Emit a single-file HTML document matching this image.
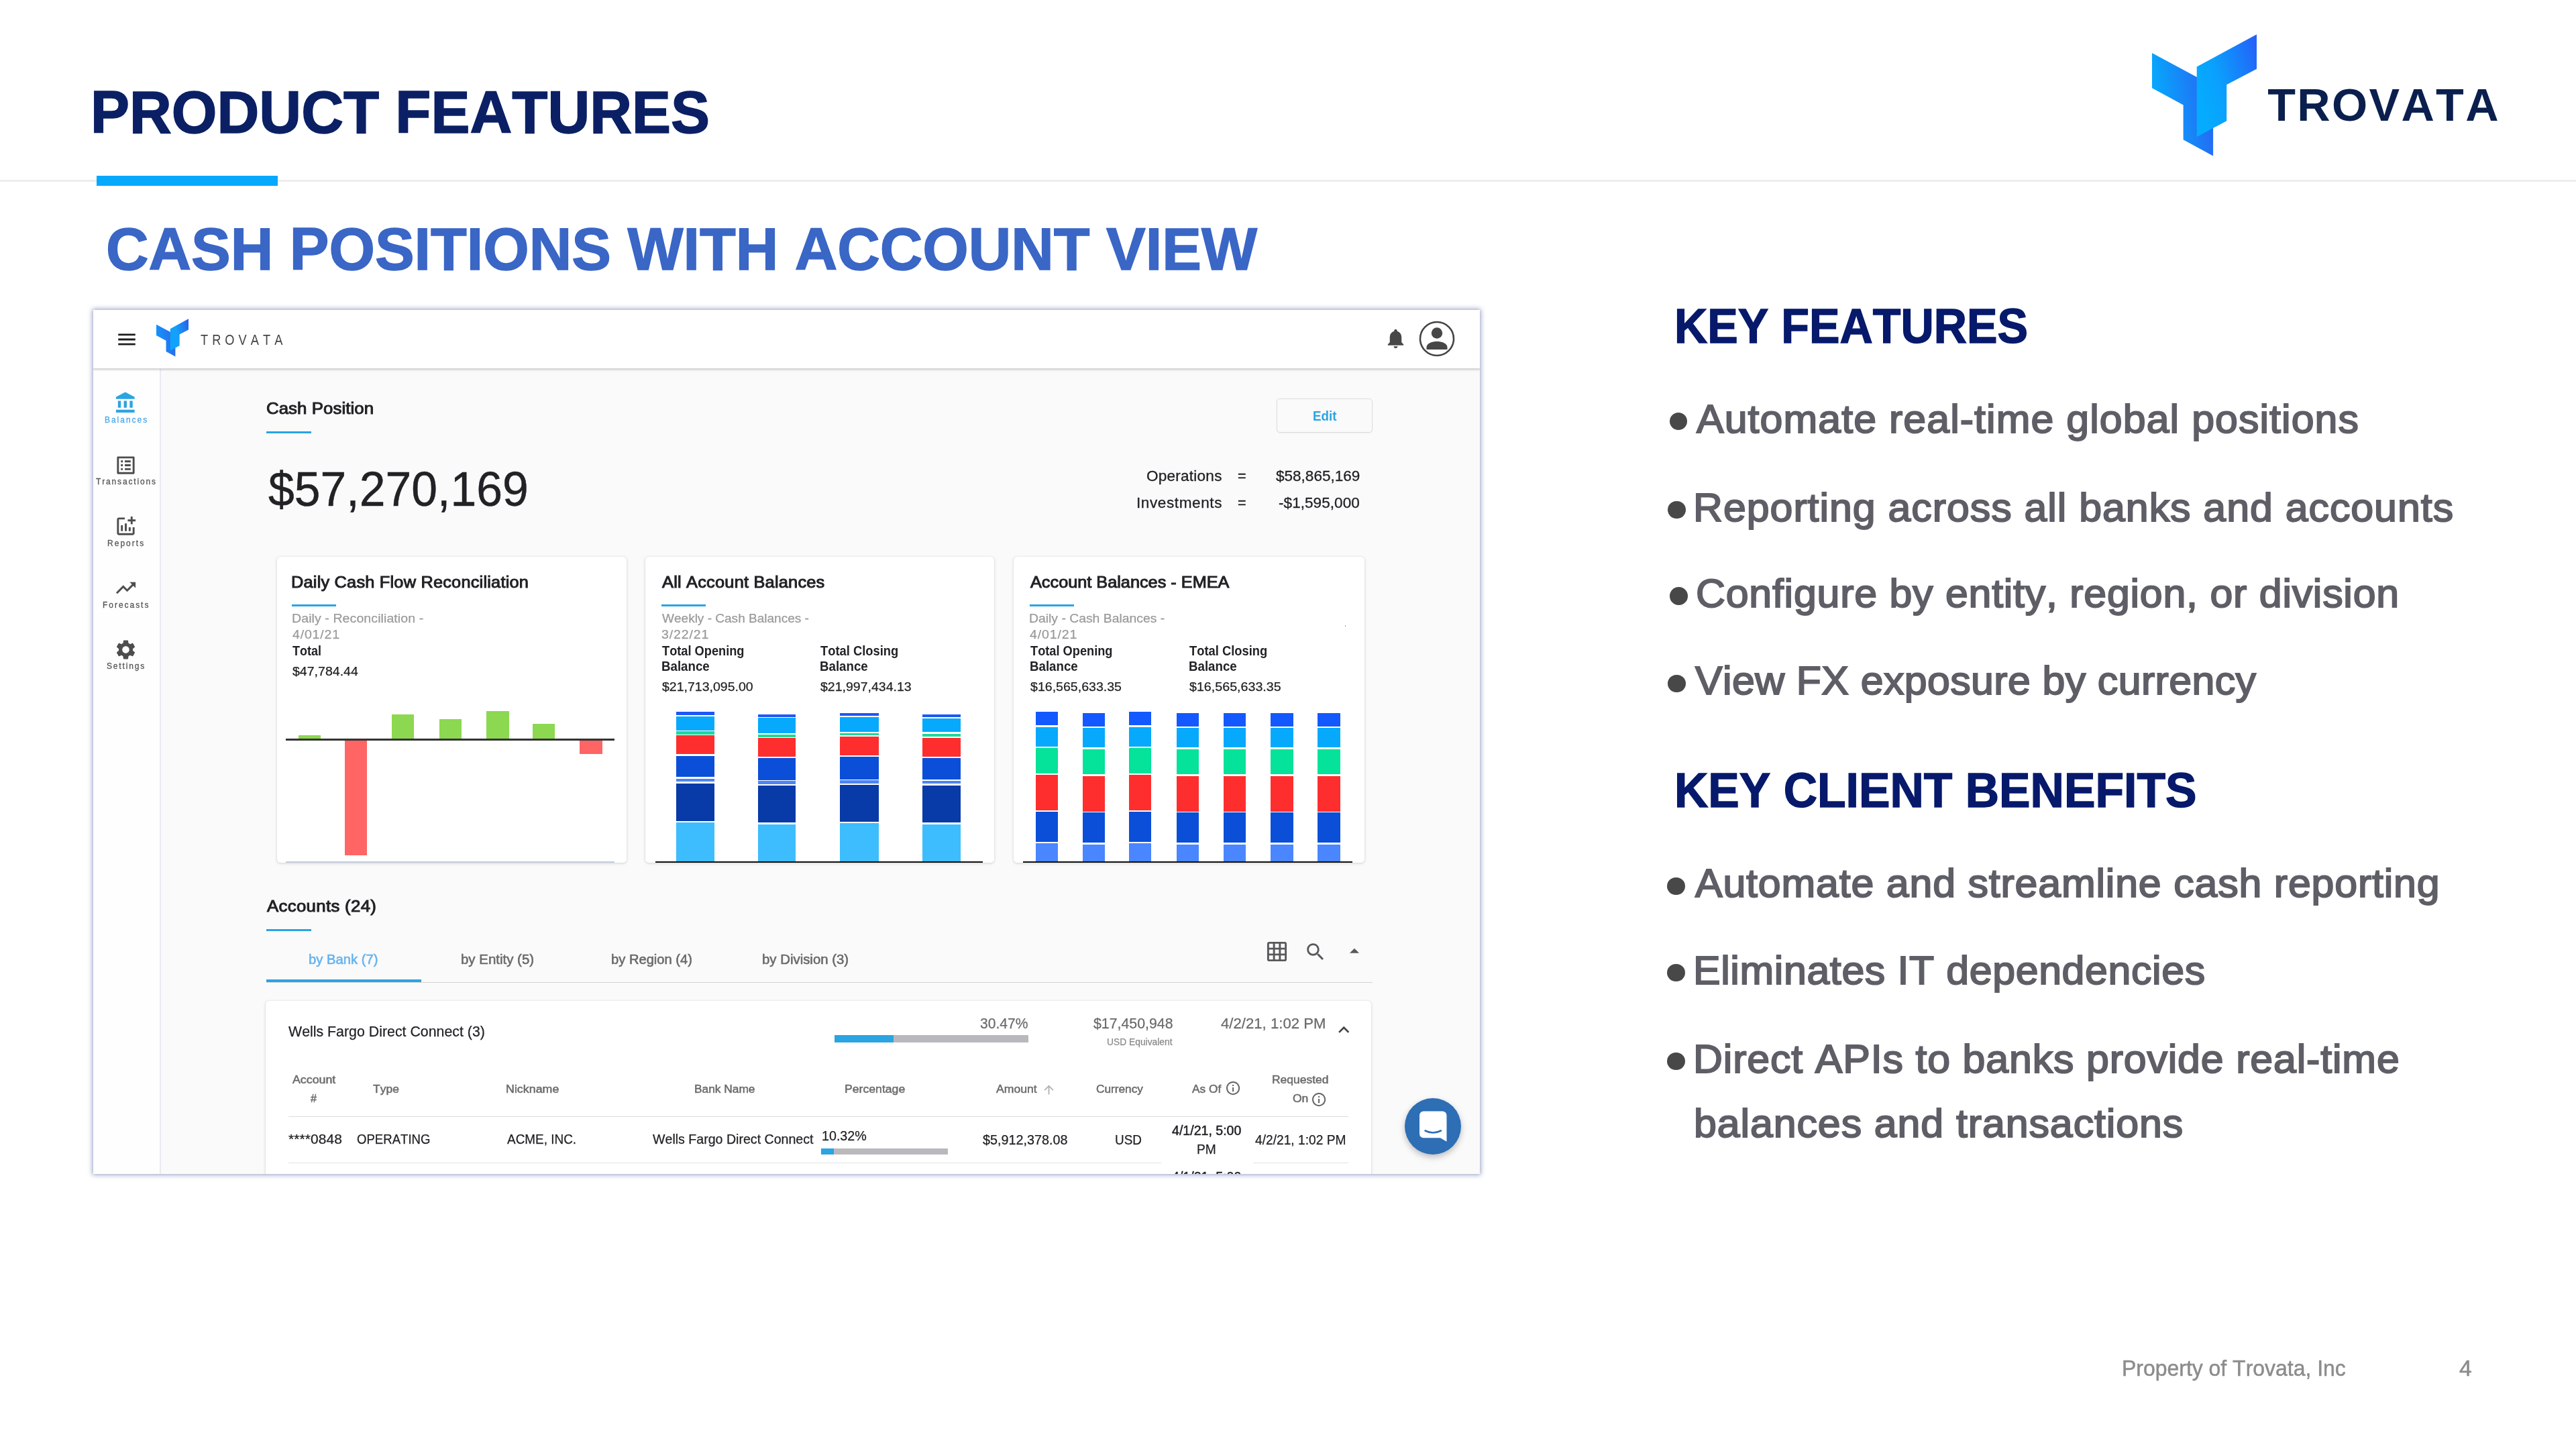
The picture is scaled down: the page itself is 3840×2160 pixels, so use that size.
<!DOCTYPE html>
<html><head><meta charset="utf-8"><title>Product Features</title>
<style>
html,body{margin:0;padding:0;background:#fff;}
body{width:3840px;height:2160px;overflow:hidden;position:relative;font-family:"Liberation Sans",sans-serif;font-kerning:none;}
.t{position:absolute;white-space:pre;line-height:1;transform-origin:left center;font-kerning:none;}
.r{position:absolute;display:block;}
#panel{position:absolute;left:139px;top:462px;width:2067px;height:1288px;overflow:hidden;background:#fafafa;box-shadow:0 0 7px 1px rgba(100,112,170,0.72);}
#pin{position:absolute;left:-139px;top:-462px;width:3840px;height:2160px;}
.card{position:absolute;background:#fff;border-radius:5px;box-shadow:0 1px 4px rgba(0,0,0,0.16),0 0 1px rgba(0,0,0,0.12);}
</style></head><body>
<div class="r" style="left:0.00px;top:268.00px;width:3840.00px;height:3.00px;background:#ededed;"></div>
<div class="r" style="left:143.90px;top:262.30px;width:269.80px;height:14.30px;background:#06a9fc;"></div>
<span class="t" style="left:135.18px;top:123.88px;font-size:88.62px;color:#0b2064;font-weight:bold;transform:scaleX(0.9818);-webkit-text-stroke:1.5px #0b2064;">PRODUCT FEATURES</span>
<span class="t" style="left:158.19px;top:327.30px;font-size:89.78px;color:#3a66c6;font-weight:bold;transform:scaleX(0.9803);-webkit-text-stroke:1.5px #3a66c6;">CASH POSITIONS WITH ACCOUNT VIEW</span>
<svg class="r" style="left:3208.00px;top:51.10px" width="156.30" height="181.60" viewBox="0 0 156.30 181.60"><defs><linearGradient id="La" x1="0" y1="0.25" x2="1" y2="0"><stop offset="0" stop-color="#06a8fd"/><stop offset="1" stop-color="#2a5ff2"/></linearGradient><linearGradient id="Lb" x1="0" y1="0.6" x2="1" y2="0.1"><stop offset="0" stop-color="#05acfe"/><stop offset="0.35" stop-color="#0aa0fd"/><stop offset="1" stop-color="#2462f8"/></linearGradient></defs><polygon fill="url(#La)" points="0.00,27.90 91.10,76.90 91.10,181.60 46.60,157.20 46.60,105.50 0.00,80.20"/><polygon fill="url(#Lb)" points="66.70,48.60 156.30,0.00 156.30,51.70 111.20,75.30 111.20,129.30 66.70,152.90"/></svg>
<span class="t" style="left:3380.23px;top:121.62px;font-size:68.37px;color:#0b1f4e;font-weight:bold;letter-spacing:2.323px;">TROVATA</span>
<div id="panel"><div id="pin">
<div class="r" style="left:139.00px;top:550.00px;width:99.00px;height:1200.00px;background:#fefefe;border-right:2px solid #eaeaf0;"></div>
<div class="r" style="left:139.00px;top:462.00px;width:2067.00px;height:87.00px;background:#ffffff;box-shadow:0 1px 3px rgba(0,0,0,0.22);border-bottom:1px solid #d6d6d6;"></div>
<svg class="r" style="left:172.40px;top:489.10px" width="34" height="34" viewBox="0 0 24 24"><path fill="#1c1c1c" d="M3 18h18v-2H3v2zm0-5h18v-2H3v2zm0-7v2h18V6H3z"/></svg>
<svg class="r" style="left:232.50px;top:475.00px" width="48.69" height="56.57" viewBox="0 0 48.69 56.57"><defs><linearGradient id="Sa" x1="0" y1="0.25" x2="1" y2="0"><stop offset="0" stop-color="#1494fb"/><stop offset="1" stop-color="#2e64e6"/></linearGradient><linearGradient id="Sb" x1="0" y1="0.6" x2="1" y2="0.1"><stop offset="0" stop-color="#0fa3fc"/><stop offset="0.35" stop-color="#14a0fb"/><stop offset="1" stop-color="#2a5fe6"/></linearGradient></defs><polygon fill="url(#Sa)" points="0.00,8.69 28.38,23.95 28.38,56.57 14.52,48.97 14.52,32.86 0.00,24.98"/><polygon fill="url(#Sb)" points="20.78,15.14 48.69,0.00 48.69,16.10 34.64,23.46 34.64,40.28 20.78,47.63"/></svg>
<span class="t" style="left:298.99px;top:495.95px;font-size:21.2px;color:#454545;letter-spacing:7.024px;transform:scaleX(0.86);-webkit-text-stroke:0.01px #454545;">TROVATA</span>
<svg class="r" style="left:2063.20px;top:487.40px" width="35" height="35" viewBox="0 0 24 24"><path fill="#474747" d="M12 22c1.1 0 2-.9 2-2h-4c0 1.1.89 2 2 2zm6-6v-5c0-3.07-1.64-5.64-4.5-6.32V4c0-.83-.67-1.5-1.5-1.5s-1.500.67-1.500 1.500v.68C7.63 5.36 6 7.920 6 11v5l-2 2v1h16v-1l-2-2z"/></svg>
<svg class="r" style="left:2113.6px;top:476.6px" width="56" height="56" viewBox="0 0 56 56"><circle cx="28" cy="28" r="25" fill="none" stroke="#444" stroke-width="2.6"/><circle cx="28" cy="19.5" r="8.2" fill="#474747"/><path fill="#474747" d="M12.5 44 v-3.5 c0-6 9-8.500 15.500-8.500 s15.500 2.500 15.500 8.500 v3.500 z"/></svg>
<svg class="r" style="left:170.30px;top:583.30px" width="35" height="35" viewBox="0 0 24 24"><path fill="#2ba4e2" d="M4 10v7h3v-7H4zm6 0v7h3v-7h-3zM2 22h19v-3H2v3zm14-12v7h3v-7h-3zm-4.5-9L2 6v2h19V6l-9.5-5z"/></svg>
<svg class="r" style="left:170.30px;top:675.50px" width="35" height="35" viewBox="0 0 24 24"><path fill="#4d4d4d" d="M19 5v14H5V5h14m1.1-2H3.9c-.5 0-.9.4-.9.9v16.2c0 .4.4.9.9.9h16.2c.4 0 .9-.5.9-.9V3.9c0-.5-.5-.9-.9-.9zM11 7h6v2h-6V7zm0 4h6v2h-6v-2zm0 4h6v2h-6zM7 7h2v2H7zm0 4h2v2H7zm0 4h2v2H7z"/></svg>
<svg class="r" style="left:170.30px;top:766.70px" width="35" height="35" viewBox="0 0 24 24"><path fill="#4d4d4d" d="M22 5v2h-3v3h-2V7h-3V5h3V2h2v3h3zm-3 14H5V5h6V3H5c-1.1 0-2 .9-2 2v14c0 1.1.9 2 2 2h14c1.1 0 2-.9 2-2v-6h-2v6zm-4-6v4h2v-4h-2zm-4 4h2V9h-2v8zm-2 0v-6H7v6h2z"/></svg>
<svg class="r" style="left:170.30px;top:858.90px" width="35" height="35" viewBox="0 0 24 24"><path fill="#4d4d4d" d="M16 6l2.29 2.29-4.88 4.88-4-4L2 16.59 3.41 18l6-6 4 4 6.3-6.29L22 12V6z"/></svg>
<svg class="r" style="left:170.30px;top:951.00px" width="35" height="35" viewBox="0 0 24 24"><path fill="#4d4d4d" d="M19.14 12.94c.04-.3.06-.61.06-.94 0-.32-.02-.64-.07-.94l2.03-1.58c.18-.14.23-.41.12-.61l-1.92-3.32c-.12-.22-.37-.29-.59-.22l-2.39.96c-.5-.38-1.03-.7-1.62-.94l-.36-2.54c-.04-.24-.24-.41-.48-.41h-3.84c-.24 0-.43.17-.47.41l-.36 2.54c-.59.24-1.13.57-1.62.94l-2.39-.96c-.22-.08-.47 0-.59.22L2.74 8.87c-.12.21-.08.47.12.61l2.03 1.58c-.05.3-.09.63-.09.94s.02.64.07.94l-2.03 1.58c-.18.14-.23.41-.12.61l1.92 3.32c.12.22.37.29.59.22l2.39-.96c.5.38 1.03.7 1.62.94l.36 2.54c.05.24.24.41.48.41h3.84c.24 0 .44-.17.47-.41l.36-2.54c.59-.24 1.13-.56 1.62-.94l2.39.96c.22.08.47 0 .59-.22l1.92-3.32c.12-.22.07-.47-.12-.61l-2.01-1.58zM12 15.6c-1.98 0-3.6-1.62-3.6-3.6s1.62-3.6 3.6-3.6 3.6 1.62 3.6 3.6-1.62 3.6-3.6 3.6z"/></svg>
<span class="t" style="left:155.52px;top:618.80px;font-size:13.0px;color:#4aa9ea;letter-spacing:2.160px;transform:scaleX(0.92);-webkit-text-stroke:0.3px #4aa9ea;">Balances</span>
<span class="t" style="left:143.13px;top:710.70px;font-size:13.0px;color:#555;letter-spacing:2.039px;transform:scaleX(0.92);-webkit-text-stroke:0.3px #555;">Transactions</span>
<span class="t" style="left:160.02px;top:802.80px;font-size:13.0px;color:#555;letter-spacing:2.235px;transform:scaleX(0.92);-webkit-text-stroke:0.3px #555;">Reports</span>
<span class="t" style="left:153.02px;top:895.20px;font-size:13.0px;color:#555;letter-spacing:2.161px;transform:scaleX(0.92);-webkit-text-stroke:0.3px #555;">Forecasts</span>
<span class="t" style="left:159.46px;top:986.40px;font-size:13.0px;color:#555;letter-spacing:2.012px;transform:scaleX(0.92);-webkit-text-stroke:0.3px #555;">Settings</span>
<span class="t" style="left:396.69px;top:597.11px;font-size:24.8px;color:#212225;letter-spacing:0.076px;transform:scaleX(1.04);-webkit-text-stroke:1.0px #212225;">Cash Position</span>
<div class="r" style="left:397.00px;top:642.50px;width:67.00px;height:3.70px;background:#2ba4e2;"></div>
<span class="t" style="left:399.75px;top:692.54px;font-size:72.6px;color:#212225;transform:scaleX(0.9604);-webkit-text-stroke:0.5px #212225;">$57,270,169</span>
<div class="r" style="left:1903px;top:593.9px;width:141px;height:49.5px;border:1.5px solid #dcdcdc;border-radius:5px;background:#fafafa;box-shadow:0 1px 2px rgba(0,0,0,0.05)"></div>
<span class="t" style="left:1957.24px;top:609.62px;font-size:20.3px;color:#2ba4e2;font-weight:bold;transform:scaleX(0.9256);">Edit</span>
<span class="t" style="left:1708.93px;top:699.03px;font-size:21.7px;color:#212225;letter-spacing:0.223px;transform:scaleX(1.04);-webkit-text-stroke:0.3px #212225;">Operations</span>
<span class="t" style="left:1845.44px;top:699.03px;font-size:21.7px;color:#212225;transform:scaleX(0.9959);-webkit-text-stroke:0.3px #212225;">=</span>
<span class="t" style="left:1901.66px;top:699.03px;font-size:21.7px;color:#212225;transform:scaleX(1.0392);-webkit-text-stroke:0.3px #212225;">$58,865,169</span>
<span class="t" style="left:1693.92px;top:739.43px;font-size:21.7px;color:#212225;letter-spacing:0.561px;transform:scaleX(1.04);-webkit-text-stroke:0.3px #212225;">Investments</span>
<span class="t" style="left:1845.44px;top:739.43px;font-size:21.7px;color:#212225;transform:scaleX(0.9959);-webkit-text-stroke:0.3px #212225;">=</span>
<span class="t" style="left:1906.00px;top:739.43px;font-size:21.7px;color:#212225;letter-spacing:0.040px;transform:scaleX(1.04);-webkit-text-stroke:0.3px #212225;">-$1,595,000</span>
<div class="card" style="left:412.9px;top:830.3px;width:520.7px;height:455.7px"></div>
<div class="card" style="left:961.8px;top:830.3px;width:520.2px;height:455.7px"></div>
<div class="card" style="left:1511.2px;top:830.3px;width:522.4px;height:455.7px"></div>
<span class="t" style="left:434.32px;top:855.75px;font-size:24.4px;color:#212225;letter-spacing:0.188px;transform:scaleX(1.04);-webkit-text-stroke:1.0px #212225;">Daily Cash Flow Reconciliation</span>
<div class="r" style="left:435.30px;top:900.60px;width:65.80px;height:3.80px;background:#2ba4e2;"></div>
<span class="t" style="left:434.50px;top:913.39px;font-size:18.8px;color:#9a9a9a;letter-spacing:0.078px;transform:scaleX(1.04);-webkit-text-stroke:0.25px #9a9a9a;">Daily - Reconciliation -</span>
<span class="t" style="left:435.65px;top:936.79px;font-size:18.8px;color:#9a9a9a;letter-spacing:0.780px;transform:scaleX(1.04);-webkit-text-stroke:0.25px #9a9a9a;">4/01/21</span>
<span class="t" style="left:435.90px;top:960.66px;font-size:19.3px;color:#212225;font-weight:bold;transform:scaleX(0.9322);">Total</span>
<span class="t" style="left:435.89px;top:990.73px;font-size:19.1px;color:#212225;transform:scaleX(1.024);-webkit-text-stroke:0.25px #212225;">$47,784.44</span>
<span class="t" style="left:987.05px;top:855.75px;font-size:24.4px;color:#212225;letter-spacing:0.202px;transform:scaleX(1.04);-webkit-text-stroke:1.0px #212225;">All Account Balances</span>
<div class="r" style="left:986.00px;top:900.60px;width:65.80px;height:3.80px;background:#2ba4e2;"></div>
<span class="t" style="left:986.72px;top:913.39px;font-size:18.8px;color:#9a9a9a;transform:scaleX(1.0132);-webkit-text-stroke:0.25px #9a9a9a;">Weekly - Cash Balances -</span>
<span class="t" style="left:986.06px;top:936.79px;font-size:18.8px;color:#9a9a9a;letter-spacing:0.828px;transform:scaleX(1.04);-webkit-text-stroke:0.25px #9a9a9a;">3/22/21</span>
<span class="t" style="left:986.60px;top:960.66px;font-size:19.3px;color:#212225;font-weight:bold;transform:scaleX(0.9452);">Total Opening</span>
<span class="t" style="left:985.55px;top:983.76px;font-size:19.3px;color:#212225;font-weight:bold;transform:scaleX(0.9698);">Balance</span>
<span class="t" style="left:986.59px;top:1014.03px;font-size:19.1px;color:#212225;transform:scaleX(1.0219);-webkit-text-stroke:0.25px #212225;">$21,713,095.00</span>
<span class="t" style="left:1223.29px;top:960.66px;font-size:19.3px;color:#212225;font-weight:bold;transform:scaleX(0.9518);">Total Closing</span>
<span class="t" style="left:1222.25px;top:983.76px;font-size:19.3px;color:#212225;font-weight:bold;transform:scaleX(0.9698);">Balance</span>
<span class="t" style="left:1223.29px;top:1014.03px;font-size:19.1px;color:#212225;transform:scaleX(1.0226);-webkit-text-stroke:0.25px #212225;">$21,997,434.13</span>
<span class="t" style="left:1536.05px;top:855.75px;font-size:24.4px;color:#212225;transform:scaleX(1.0362);-webkit-text-stroke:1.0px #212225;">Account Balances - EMEA</span>
<div class="r" style="left:1535.00px;top:900.60px;width:65.80px;height:3.80px;background:#2ba4e2;"></div>
<span class="t" style="left:1534.21px;top:913.39px;font-size:18.8px;color:#9a9a9a;transform:scaleX(1.0301);-webkit-text-stroke:0.25px #9a9a9a;">Daily - Cash Balances -</span>
<span class="t" style="left:1535.35px;top:936.79px;font-size:18.8px;color:#9a9a9a;letter-spacing:0.828px;transform:scaleX(1.04);-webkit-text-stroke:0.25px #9a9a9a;">4/01/21</span>
<span class="t" style="left:1535.60px;top:960.66px;font-size:19.3px;color:#212225;font-weight:bold;transform:scaleX(0.9452);">Total Opening</span>
<span class="t" style="left:1534.55px;top:983.76px;font-size:19.3px;color:#212225;font-weight:bold;transform:scaleX(0.9698);">Balance</span>
<span class="t" style="left:1535.59px;top:1014.03px;font-size:19.1px;color:#212225;transform:scaleX(1.0246);-webkit-text-stroke:0.25px #212225;">$16,565,633.35</span>
<span class="t" style="left:1773.29px;top:960.66px;font-size:19.3px;color:#212225;font-weight:bold;transform:scaleX(0.9518);">Total Closing</span>
<span class="t" style="left:1772.25px;top:983.76px;font-size:19.3px;color:#212225;font-weight:bold;transform:scaleX(0.9698);">Balance</span>
<span class="t" style="left:1773.29px;top:1014.03px;font-size:19.1px;color:#212225;transform:scaleX(1.0299);-webkit-text-stroke:0.25px #212225;">$16,565,633.35</span>
<div class="r" style="left:2004.50px;top:932.30px;width:1.50px;height:1.50px;background:#999;"></div>
<div class="r" style="left:444.60px;top:1095.80px;width:33.50px;height:6.20px;background:#8cd850;"></div>
<div class="r" style="left:584.00px;top:1064.60px;width:33.40px;height:37.40px;background:#8cd850;"></div>
<div class="r" style="left:654.60px;top:1072.00px;width:33.20px;height:30.00px;background:#8cd850;"></div>
<div class="r" style="left:725.00px;top:1060.30px;width:33.50px;height:41.70px;background:#8cd850;"></div>
<div class="r" style="left:794.30px;top:1078.90px;width:32.50px;height:23.10px;background:#8cd850;"></div>
<div class="r" style="left:514.00px;top:1103.00px;width:33.10px;height:171.70px;background:#ff6565;"></div>
<div class="r" style="left:864.30px;top:1103.00px;width:33.50px;height:20.80px;background:#ff6565;"></div>
<div class="r" style="left:426.00px;top:1101.40px;width:489.70px;height:2.20px;background:#333;"></div>
<div class="r" style="left:426.00px;top:1284.00px;width:489.70px;height:2.00px;background:#c3cde0;"></div>
<div class="r" style="left:1007.50px;top:1061.30px;width:57.80px;height:4.70px;background:#1f57f5;"></div>
<div class="r" style="left:1007.50px;top:1067.70px;width:57.80px;height:21.30px;background:#06a9fc;"></div>
<div class="r" style="left:1007.50px;top:1090.00px;width:57.80px;height:4.70px;background:#1dd99b;"></div>
<div class="r" style="left:1007.50px;top:1096.40px;width:57.80px;height:28.10px;background:#ff2e2e;"></div>
<div class="r" style="left:1007.50px;top:1126.50px;width:57.80px;height:31.80px;background:#0b4fd8;"></div>
<div class="r" style="left:1007.50px;top:1160.70px;width:57.80px;height:4.30px;background:#4d85f5;"></div>
<div class="r" style="left:1007.50px;top:1167.50px;width:57.80px;height:56.40px;background:#083aa8;"></div>
<div class="r" style="left:1007.50px;top:1226.00px;width:57.80px;height:58.50px;background:#3dbdfd;"></div>
<div class="r" style="left:1130.00px;top:1064.60px;width:56.00px;height:4.10px;background:#1f57f5;"></div>
<div class="r" style="left:1130.00px;top:1070.40px;width:56.00px;height:22.60px;background:#06a9fc;"></div>
<div class="r" style="left:1130.00px;top:1095.00px;width:56.00px;height:3.50px;background:#1dd99b;"></div>
<div class="r" style="left:1130.00px;top:1099.80px;width:56.00px;height:28.10px;background:#ff2e2e;"></div>
<div class="r" style="left:1130.00px;top:1129.60px;width:56.00px;height:33.10px;background:#0b4fd8;"></div>
<div class="r" style="left:1130.00px;top:1164.40px;width:56.00px;height:4.80px;background:#4d85f5;"></div>
<div class="r" style="left:1130.00px;top:1171.20px;width:56.00px;height:54.80px;background:#083aa8;"></div>
<div class="r" style="left:1130.00px;top:1228.70px;width:56.00px;height:55.80px;background:#3dbdfd;"></div>
<div class="r" style="left:1252.30px;top:1063.00px;width:57.50px;height:4.40px;background:#1f57f5;"></div>
<div class="r" style="left:1252.30px;top:1069.00px;width:57.50px;height:21.70px;background:#06a9fc;"></div>
<div class="r" style="left:1252.30px;top:1093.40px;width:57.50px;height:2.70px;background:#1dd99b;"></div>
<div class="r" style="left:1252.30px;top:1097.80px;width:57.50px;height:28.40px;background:#ff2e2e;"></div>
<div class="r" style="left:1252.30px;top:1128.20px;width:57.50px;height:33.80px;background:#0b4fd8;"></div>
<div class="r" style="left:1252.30px;top:1163.40px;width:57.50px;height:5.10px;background:#4d85f5;"></div>
<div class="r" style="left:1252.30px;top:1170.20px;width:57.50px;height:54.40px;background:#083aa8;"></div>
<div class="r" style="left:1252.30px;top:1226.60px;width:57.50px;height:57.90px;background:#3dbdfd;"></div>
<div class="r" style="left:1374.80px;top:1064.60px;width:56.80px;height:4.10px;background:#1f57f5;"></div>
<div class="r" style="left:1374.80px;top:1070.70px;width:56.80px;height:20.00px;background:#06a9fc;"></div>
<div class="r" style="left:1374.80px;top:1094.00px;width:56.80px;height:3.80px;background:#1dd99b;"></div>
<div class="r" style="left:1374.80px;top:1099.80px;width:56.80px;height:28.10px;background:#ff2e2e;"></div>
<div class="r" style="left:1374.80px;top:1129.60px;width:56.80px;height:32.40px;background:#0b4fd8;"></div>
<div class="r" style="left:1374.80px;top:1163.70px;width:56.80px;height:4.80px;background:#4d85f5;"></div>
<div class="r" style="left:1374.80px;top:1170.50px;width:56.80px;height:55.50px;background:#083aa8;"></div>
<div class="r" style="left:1374.80px;top:1228.70px;width:56.80px;height:55.80px;background:#3dbdfd;"></div>
<div class="r" style="left:977.00px;top:1283.80px;width:488.00px;height:2.50px;background:#111;"></div>
<div class="r" style="left:1544.30px;top:1061.30px;width:32.80px;height:19.90px;background:#1459ff;"></div>
<div class="r" style="left:1544.30px;top:1084.00px;width:32.80px;height:28.70px;background:#06a9fc;"></div>
<div class="r" style="left:1544.30px;top:1115.40px;width:32.80px;height:37.90px;background:#05e29a;"></div>
<div class="r" style="left:1544.30px;top:1155.00px;width:32.80px;height:53.40px;background:#ff2e2e;"></div>
<div class="r" style="left:1544.30px;top:1210.00px;width:32.80px;height:45.00px;background:#0b4fd8;"></div>
<div class="r" style="left:1544.30px;top:1257.40px;width:32.80px;height:27.10px;background:#4a86ff;"></div>
<div class="r" style="left:1613.60px;top:1063.00px;width:33.50px;height:19.60px;background:#1459ff;"></div>
<div class="r" style="left:1613.60px;top:1085.30px;width:33.50px;height:28.40px;background:#06a9fc;"></div>
<div class="r" style="left:1613.60px;top:1116.70px;width:33.50px;height:37.60px;background:#05e29a;"></div>
<div class="r" style="left:1613.60px;top:1156.60px;width:33.50px;height:53.10px;background:#ff2e2e;"></div>
<div class="r" style="left:1613.60px;top:1211.40px;width:33.50px;height:45.00px;background:#0b4fd8;"></div>
<div class="r" style="left:1613.60px;top:1258.80px;width:33.50px;height:25.70px;background:#4a86ff;"></div>
<div class="r" style="left:1683.30px;top:1061.30px;width:33.10px;height:19.90px;background:#1459ff;"></div>
<div class="r" style="left:1683.30px;top:1084.00px;width:33.10px;height:28.70px;background:#06a9fc;"></div>
<div class="r" style="left:1683.30px;top:1115.40px;width:33.10px;height:37.90px;background:#05e29a;"></div>
<div class="r" style="left:1683.30px;top:1155.00px;width:33.10px;height:53.40px;background:#ff2e2e;"></div>
<div class="r" style="left:1683.30px;top:1210.00px;width:33.10px;height:45.00px;background:#0b4fd8;"></div>
<div class="r" style="left:1683.30px;top:1257.40px;width:33.10px;height:27.10px;background:#4a86ff;"></div>
<div class="r" style="left:1753.60px;top:1063.00px;width:33.50px;height:19.60px;background:#1459ff;"></div>
<div class="r" style="left:1753.60px;top:1085.30px;width:33.50px;height:28.40px;background:#06a9fc;"></div>
<div class="r" style="left:1753.60px;top:1116.70px;width:33.50px;height:37.60px;background:#05e29a;"></div>
<div class="r" style="left:1753.60px;top:1156.60px;width:33.50px;height:53.10px;background:#ff2e2e;"></div>
<div class="r" style="left:1753.60px;top:1211.40px;width:33.50px;height:45.00px;background:#0b4fd8;"></div>
<div class="r" style="left:1753.60px;top:1258.80px;width:33.50px;height:25.70px;background:#4a86ff;"></div>
<div class="r" style="left:1824.00px;top:1063.00px;width:32.80px;height:19.60px;background:#1459ff;"></div>
<div class="r" style="left:1824.00px;top:1085.30px;width:32.80px;height:28.40px;background:#06a9fc;"></div>
<div class="r" style="left:1824.00px;top:1116.70px;width:32.80px;height:37.60px;background:#05e29a;"></div>
<div class="r" style="left:1824.00px;top:1156.60px;width:32.80px;height:53.10px;background:#ff2e2e;"></div>
<div class="r" style="left:1824.00px;top:1211.40px;width:32.80px;height:45.00px;background:#0b4fd8;"></div>
<div class="r" style="left:1824.00px;top:1258.80px;width:32.80px;height:25.70px;background:#4a86ff;"></div>
<div class="r" style="left:1894.30px;top:1063.00px;width:33.50px;height:19.60px;background:#1459ff;"></div>
<div class="r" style="left:1894.30px;top:1085.30px;width:33.50px;height:28.40px;background:#06a9fc;"></div>
<div class="r" style="left:1894.30px;top:1116.70px;width:33.50px;height:37.60px;background:#05e29a;"></div>
<div class="r" style="left:1894.30px;top:1156.60px;width:33.50px;height:53.10px;background:#ff2e2e;"></div>
<div class="r" style="left:1894.30px;top:1211.40px;width:33.50px;height:45.00px;background:#0b4fd8;"></div>
<div class="r" style="left:1894.30px;top:1258.80px;width:33.50px;height:25.70px;background:#4a86ff;"></div>
<div class="r" style="left:1964.30px;top:1063.00px;width:33.50px;height:19.60px;background:#1459ff;"></div>
<div class="r" style="left:1964.30px;top:1085.30px;width:33.50px;height:28.40px;background:#06a9fc;"></div>
<div class="r" style="left:1964.30px;top:1116.70px;width:33.50px;height:37.60px;background:#05e29a;"></div>
<div class="r" style="left:1964.30px;top:1156.60px;width:33.50px;height:53.10px;background:#ff2e2e;"></div>
<div class="r" style="left:1964.30px;top:1211.40px;width:33.50px;height:45.00px;background:#0b4fd8;"></div>
<div class="r" style="left:1964.30px;top:1258.80px;width:33.50px;height:25.70px;background:#4a86ff;"></div>
<div class="r" style="left:1524.70px;top:1283.80px;width:491.70px;height:2.50px;background:#111;"></div>
<span class="t" style="left:397.85px;top:1339.41px;font-size:24.8px;color:#212225;letter-spacing:0.307px;transform:scaleX(1.04);-webkit-text-stroke:1.0px #212225;">Accounts (24)</span>
<div class="r" style="left:397.00px;top:1384.60px;width:66.90px;height:3.70px;background:#2ba4e2;"></div>
<span class="t" style="left:459.59px;top:1420.02px;font-size:20.3px;color:#66b3ef;transform:scaleX(0.9977);-webkit-text-stroke:0.6px #66b3ef;">by Bank (7)</span>
<span class="t" style="left:686.88px;top:1420.02px;font-size:20.3px;color:#6a6a6a;transform:scaleX(1.0082);-webkit-text-stroke:0.6px #6a6a6a;">by Entity (5)</span>
<span class="t" style="left:910.60px;top:1420.02px;font-size:20.3px;color:#6a6a6a;transform:scaleX(0.9934);-webkit-text-stroke:0.6px #6a6a6a;">by Region (4)</span>
<span class="t" style="left:1136.08px;top:1420.02px;font-size:20.3px;color:#6a6a6a;transform:scaleX(1.0053);-webkit-text-stroke:0.6px #6a6a6a;">by Division (3)</span>
<div class="r" style="left:397.00px;top:1463.70px;width:1649.30px;height:1.20px;background:#d2d2d2;"></div>
<div class="r" style="left:397.00px;top:1459.50px;width:230.90px;height:4.80px;background:#2ba4e2;"></div>
<svg class="r" style="left:1886.20px;top:1401.20px" width="35" height="35" viewBox="0 0 24 24"><path fill="#58595c" d="M20 2H4c-1.1 0-2 .9-2 2v16c0 1.1.9 2 2 2h16c1.100 0 2-.9 2-2V4c0-1.100-.9-2-2-2zM8 20H4v-4h4v4zm0-6H4v-4h4v4zm0-6H4V4h4v4zm6 12h-4v-4h4v4zm0-6h-4v-4h4v4zm0-6h-4V4h4v4zm6 12h-4v-4h4v4zm0-6h-4v-4h4v4zm0-6h-4V4h4v4z"/></svg>
<svg class="r" style="left:1943.90px;top:1401.60px" width="34" height="34" viewBox="0 0 24 24"><path fill="#58595c" d="M15.5 14h-.79l-.28-.27C15.41 12.59 16 11.11 16 9.5 16 5.91 13.09 3 9.5 3S3 5.91 3 9.5 5.91 16 9.5 16c1.610 0 3.090-.59 4.230-1.570l.27.28v.79l5 4.990L20.490 19l-4.990-5zm-6 0C7.010 14 5 11.990 5 9.5S7.010 5 9.5 5 14 7.010 14 9.5 11.990 14 9.5 14z"/></svg>
<svg class="r" style="left:2001.80px;top:1401.20px" width="34" height="34" viewBox="0 0 24 24"><path fill="#58595c" d="M7 14l5-5 5 5z"/></svg>
<div class="card" style="left:395.7px;top:1492.3px;width:1648.1px;height:300px"></div>
<span class="t" style="left:430.21px;top:1527.12px;font-size:22.3px;color:#212225;transform:scaleX(0.957);-webkit-text-stroke:0.25px #212225;">Wells Fargo Direct Connect (3)</span>
<span class="t" style="left:1461.00px;top:1514.93px;font-size:21.7px;color:#6a6a6a;transform:scaleX(0.9709);-webkit-text-stroke:0.25px #6a6a6a;">30.47%</span>
<div class="r" style="left:1243.60px;top:1542.80px;width:289.40px;height:10.90px;background:#b9b9bd;"></div>
<div class="r" style="left:1243.60px;top:1542.80px;width:88.00px;height:10.90px;background:#2ba4e2;"></div>
<span class="t" style="left:1629.97px;top:1514.93px;font-size:21.7px;color:#6a6a6a;transform:scaleX(0.9824);-webkit-text-stroke:0.25px #6a6a6a;">$17,450,948</span>
<span class="t" style="left:1650.33px;top:1546.48px;font-size:14.2px;color:#8a8a8a;transform:scaleX(0.9733);-webkit-text-stroke:0.25px #8a8a8a;">USD Equivalent</span>
<span class="t" style="left:1820.19px;top:1514.93px;font-size:21.7px;color:#6a6a6a;transform:scaleX(1.0217);-webkit-text-stroke:0.25px #6a6a6a;">4/2/21, 1:02 PM</span>
<svg class="r" style="left:1987.20px;top:1518.60px" width="32.5" height="32.5" viewBox="0 0 24 24"><path fill="#444" d="M12 8l-6 6 1.41 1.41L12 10.83l4.59 4.58L18 14z"/></svg>
<span class="t" style="left:435.87px;top:1601.22px;font-size:17.1px;color:#6a6a6a;transform:scaleX(1.04);-webkit-text-stroke:0.5px #6a6a6a;">Account</span>
<span class="t" style="left:463.49px;top:1629.12px;font-size:17.1px;color:#6a6a6a;transform:scaleX(0.95);-webkit-text-stroke:0.5px #6a6a6a;">#</span>
<span class="t" style="left:555.51px;top:1615.32px;font-size:17.1px;color:#6a6a6a;transform:scaleX(1.0225);-webkit-text-stroke:0.5px #6a6a6a;">Type</span>
<span class="t" style="left:754.24px;top:1615.32px;font-size:17.1px;color:#6a6a6a;letter-spacing:0.039px;transform:scaleX(1.04);-webkit-text-stroke:0.5px #6a6a6a;">Nickname</span>
<span class="t" style="left:1034.58px;top:1615.32px;font-size:17.1px;color:#6a6a6a;transform:scaleX(1.0129);-webkit-text-stroke:0.5px #6a6a6a;">Bank Name</span>
<span class="t" style="left:1259.15px;top:1615.32px;font-size:17.1px;color:#6a6a6a;transform:scaleX(1.0317);-webkit-text-stroke:0.5px #6a6a6a;">Percentage</span>
<span class="t" style="left:1484.57px;top:1615.32px;font-size:17.1px;color:#6a6a6a;transform:scaleX(1.0311);-webkit-text-stroke:0.5px #6a6a6a;">Amount</span>
<span class="t" style="left:1633.92px;top:1615.32px;font-size:17.1px;color:#6a6a6a;transform:scaleX(1.0078);-webkit-text-stroke:0.5px #6a6a6a;">Currency</span>
<span class="t" style="left:1777.27px;top:1615.32px;font-size:17.1px;color:#6a6a6a;transform:scaleX(1.0105);-webkit-text-stroke:0.5px #6a6a6a;">As Of</span>
<span class="t" style="left:1895.77px;top:1600.52px;font-size:17.1px;color:#6a6a6a;transform:scaleX(1.0224);-webkit-text-stroke:0.5px #6a6a6a;">Requested</span>
<span class="t" style="left:1926.67px;top:1628.82px;font-size:17.1px;color:#6a6a6a;transform:scaleX(1.0244);-webkit-text-stroke:0.5px #6a6a6a;">On</span>
<svg class="r" style="left:1552.60px;top:1613.50px" width="21" height="21" viewBox="0 0 24 24"><path fill="#b0b0b0" d="M4 12l1.41 1.41L11 7.83V20h2V7.83l5.58 5.59L20 12l-8-8-8 8z"/></svg>
<svg class="r" style="left:1825.80px;top:1610.20px" width="24.2" height="24.2" viewBox="0 0 24 24"><path fill="#646464" d="M11 17h2v-6h-2v6zm1-15C6.48 2 2 6.48 2 12s4.48 10 10 10 10-4.48 10-10S17.52 2 12 2zm0 18c-4.41 0-8-3.59-8-8s3.590-8 8-8 8 3.590 8 8-3.590 8-8 8zM11 9h2V7h-2v2z"/></svg>
<svg class="r" style="left:1954.20px;top:1626.60px" width="24.2" height="24.2" viewBox="0 0 24 24"><path fill="#646464" d="M11 17h2v-6h-2v6zm1-15C6.48 2 2 6.48 2 12s4.48 10 10 10 10-4.48 10-10S17.52 2 12 2zm0 18c-4.41 0-8-3.59-8-8s3.590-8 8-8 8 3.590 8 8-3.590 8-8 8zM11 9h2V7h-2v2z"/></svg>
<div class="r" style="left:430.00px;top:1664.00px;width:1580.00px;height:1.20px;background:#dcdcdc;"></div>
<span class="t" style="left:429.66px;top:1688.40px;font-size:20.2px;color:#212225;letter-spacing:0.057px;transform:scaleX(1.04);-webkit-text-stroke:0.25px #212225;">****0848</span>
<span class="t" style="left:531.92px;top:1688.40px;font-size:20.2px;color:#212225;transform:scaleX(0.9201);-webkit-text-stroke:0.25px #212225;">OPERATING</span>
<span class="t" style="left:756.36px;top:1688.40px;font-size:20.2px;color:#212225;transform:scaleX(0.938);-webkit-text-stroke:0.25px #212225;">ACME, INC.</span>
<span class="t" style="left:972.51px;top:1688.40px;font-size:20.2px;color:#212225;transform:scaleX(0.9703);-webkit-text-stroke:0.25px #212225;">Wells Fargo Direct Connect</span>
<span class="t" style="left:1224.70px;top:1682.70px;font-size:20.2px;color:#212225;transform:scaleX(0.9751);-webkit-text-stroke:0.25px #212225;">10.32%</span>
<div class="r" style="left:1224.20px;top:1712.40px;width:188.60px;height:8.80px;background:#b9b9bd;"></div>
<div class="r" style="left:1224.20px;top:1712.40px;width:19.20px;height:8.80px;background:#2ba4e2;"></div>
<span class="t" style="left:1464.99px;top:1688.80px;font-size:20.2px;color:#212225;transform:scaleX(0.9806);-webkit-text-stroke:0.25px #212225;">$5,912,378.08</span>
<span class="t" style="left:1661.54px;top:1688.80px;font-size:20.2px;color:#212225;transform:scaleX(0.9371);-webkit-text-stroke:0.25px #212225;">USD</span>
<span class="t" style="left:1747.35px;top:1674.70px;font-size:20.2px;color:#212225;transform:scaleX(0.9692);-webkit-text-stroke:0.5px #212225;">4/1/21, 5:00</span>
<span class="t" style="left:1784.31px;top:1703.30px;font-size:20.2px;color:#212225;transform:scaleX(0.95);-webkit-text-stroke:0.25px #212225;">PM</span>
<span class="t" style="left:1870.56px;top:1688.80px;font-size:20.2px;color:#212225;transform:scaleX(0.9509);-webkit-text-stroke:0.25px #212225;">4/2/21, 1:02 PM</span>
<div class="r" style="left:430.00px;top:1733.00px;width:1301.00px;height:1.30px;background:#e2e2e2;"></div>
<div class="r" style="left:1868.00px;top:1733.00px;width:142.00px;height:1.30px;background:#e2e2e2;"></div>
<span class="t" style="left:1747.35px;top:1743.50px;font-size:20.2px;color:#212225;transform:scaleX(0.9692);-webkit-text-stroke:0.5px #212225;">4/1/21, 5:00</span>
<svg class="r" style="left:2086.2px;top:1629.4px;overflow:visible" width="100" height="100" viewBox="0 0 100 100"><defs><filter id="cs" x="-40%" y="-40%" width="180%" height="180%"><feGaussianBlur stdDeviation="5"/></filter></defs><circle cx="50" cy="54" r="42" fill="rgba(0,0,0,0.25)" filter="url(#cs)"/><circle cx="50" cy="50" r="42" fill="#2d6eb5"/><path fill="#fff" d="M36 27.500 h28.500 a6 6 0 0 1 6 6 v39.200 l-9.500-5.500 h-25 a6 6 0 0 1-6-6 v-27.700 a6 6 0 0 1 6-6z"/><path fill="none" stroke="#2d6eb5" stroke-width="2.600" stroke-linecap="round" d="M38.500 56.500 q11.500 6 23.500 0"/></svg>
</div></div>
<span class="t" style="left:2496.43px;top:451.34px;font-size:71.66px;color:#06196b;font-weight:bold;transform:scaleX(0.9523);-webkit-text-stroke:1.4px #06196b;">KEY FEATURES</span>
<span class="t" style="left:2496.34px;top:1142.94px;font-size:71.66px;color:#06196b;font-weight:bold;transform:scaleX(0.9728);-webkit-text-stroke:1.4px #06196b;">KEY CLIENT BENEFITS</span>
<span class="t" style="left:2529.18px;top:595.38px;font-size:59.68px;color:#5e5f66;letter-spacing:1.045px;transform:scaleX(1.02);-webkit-text-stroke:2.0px #5e5f66;">Automate real-time global positions</span>
<span class="t" style="left:2524.31px;top:726.58px;font-size:59.68px;color:#5e5f66;letter-spacing:0.951px;transform:scaleX(1.02);-webkit-text-stroke:2.0px #5e5f66;">Reporting across all banks and accounts</span>
<span class="t" style="left:2527.71px;top:855.28px;font-size:59.68px;color:#5e5f66;letter-spacing:0.748px;transform:scaleX(1.02);-webkit-text-stroke:2.0px #5e5f66;">Configure by entity, region, or division</span>
<span class="t" style="left:2526.53px;top:985.48px;font-size:59.68px;color:#5e5f66;letter-spacing:0.384px;transform:scaleX(1.02);-webkit-text-stroke:2.0px #5e5f66;">View FX exposure by currency</span>
<span class="t" style="left:2526.68px;top:1286.98px;font-size:59.68px;color:#5e5f66;letter-spacing:0.804px;transform:scaleX(1.02);-webkit-text-stroke:2.0px #5e5f66;">Automate and streamline cash reporting</span>
<span class="t" style="left:2524.31px;top:1417.18px;font-size:59.68px;color:#5e5f66;letter-spacing:0.603px;transform:scaleX(1.02);-webkit-text-stroke:2.0px #5e5f66;">Eliminates IT dependencies</span>
<span class="t" style="left:2524.31px;top:1549.38px;font-size:59.68px;color:#5e5f66;letter-spacing:0.826px;transform:scaleX(1.02);-webkit-text-stroke:2.0px #5e5f66;">Direct APIs to banks provide real-time</span>
<span class="t" style="left:2525.38px;top:1645.28px;font-size:59.68px;color:#5e5f66;letter-spacing:0.901px;transform:scaleX(1.02);-webkit-text-stroke:2.0px #5e5f66;">balances and transactions</span>
<div class="r" style="left:2488.90px;top:614.50px;width:26.60px;height:26.60px;background:#484848;border-radius:50%;"></div>
<div class="r" style="left:2486.40px;top:746.70px;width:26.60px;height:26.60px;background:#484848;border-radius:50%;"></div>
<div class="r" style="left:2489.40px;top:875.30px;width:26.60px;height:26.60px;background:#484848;border-radius:50%;"></div>
<div class="r" style="left:2486.40px;top:1005.60px;width:26.60px;height:26.60px;background:#484848;border-radius:50%;"></div>
<div class="r" style="left:2485.40px;top:1307.60px;width:26.60px;height:26.60px;background:#484848;border-radius:50%;"></div>
<div class="r" style="left:2485.40px;top:1436.80px;width:26.60px;height:26.60px;background:#484848;border-radius:50%;"></div>
<div class="r" style="left:2485.40px;top:1568.50px;width:26.60px;height:26.60px;background:#484848;border-radius:50%;"></div>
<span class="t" style="left:3163.18px;top:2023.54px;font-size:32.44px;color:#8c8c8c;transform:scaleX(0.9853);-webkit-text-stroke:0.5px #8c8c8c;">Property of Trovata, Inc</span>
<span class="t" style="left:3666.43px;top:2023.54px;font-size:32.44px;color:#8c8c8c;transform:scaleX(1.04);-webkit-text-stroke:0.5px #8c8c8c;">4</span>
</body></html>
